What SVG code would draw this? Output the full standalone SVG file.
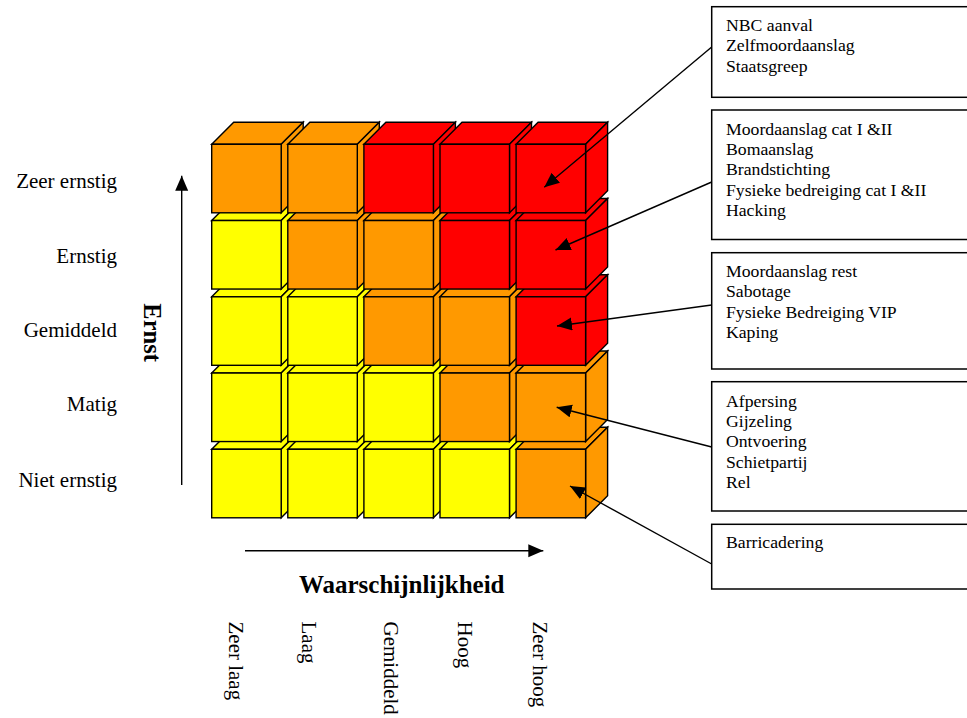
<svg xmlns="http://www.w3.org/2000/svg" xmlns:xlink="http://www.w3.org/1999/xlink" width="967" height="718" viewBox="0 0 967 718">
  <style>
    .lbl { font-family: "Liberation Serif", "Times New Roman", serif; font-size: 21px; fill: #000; }
    .ttl { font-family: "Liberation Serif", "Times New Roman", serif; font-size: 24.5px; font-weight: bold; fill: #000; }
    .box { fill: #fff; stroke: #000; stroke-width: 1.5; }
    .btx { font-family: "Liberation Serif", "Times New Roman", serif; font-size: 17.7px; fill: #000; }
    .con { stroke: #000; stroke-width: 1.4; fill: none; }
  </style>
  <defs>
    <marker id="head" markerUnits="userSpaceOnUse" markerWidth="16" markerHeight="14" refX="15" refY="6.5" orient="auto">
      <path d="M0,0 L15,6.5 L0,13 Z" fill="#000"/>
    </marker>
    <!-- one cube: top face, right face, front face; fill comes from the <use> -->
    <g id="cube" stroke="#000" stroke-width="1.4" stroke-linejoin="miter">
      <path d="M0,0 L22,-22 L91.5,-22 L69.5,0 Z"/>
      <path d="M69.5,0 L91.5,-22 L91.5,46.5 L69.5,68.5 Z"/>
      <rect x="0" y="0" width="69.5" height="68.5"/>
    </g>
  </defs>
  <rect width="967" height="718" fill="#fff"/>

  <!-- risk matrix: bottom row first, left to right -->
  <g id="matrix">
    <g id="cell-r4-c0"><use xlink:href="#cube" x="211.7" y="449.3" fill="#FFFF00"/></g>
    <g id="cell-r4-c1"><use xlink:href="#cube" x="287.8" y="449.3" fill="#FFFF00"/></g>
    <g id="cell-r4-c2"><use xlink:href="#cube" x="363.9" y="449.3" fill="#FFFF00"/></g>
    <g id="cell-r4-c3"><use xlink:href="#cube" x="440.0" y="449.3" fill="#FFFF00"/></g>
    <g id="cell-r4-c4"><use xlink:href="#cube" x="516.1" y="449.3" fill="#FF9900"/></g>

    <g id="cell-r3-c0"><use xlink:href="#cube" x="211.7" y="373.05" fill="#FFFF00"/></g>
    <g id="cell-r3-c1"><use xlink:href="#cube" x="287.8" y="373.05" fill="#FFFF00"/></g>
    <g id="cell-r3-c2"><use xlink:href="#cube" x="363.9" y="373.05" fill="#FFFF00"/></g>
    <g id="cell-r3-c3"><use xlink:href="#cube" x="440.0" y="373.05" fill="#FF9900"/></g>
    <g id="cell-r3-c4"><use xlink:href="#cube" x="516.1" y="373.05" fill="#FF9900"/></g>

    <g id="cell-r2-c0"><use xlink:href="#cube" x="211.7" y="296.8" fill="#FFFF00"/></g>
    <g id="cell-r2-c1"><use xlink:href="#cube" x="287.8" y="296.8" fill="#FFFF00"/></g>
    <g id="cell-r2-c2"><use xlink:href="#cube" x="363.9" y="296.8" fill="#FF9900"/></g>
    <g id="cell-r2-c3"><use xlink:href="#cube" x="440.0" y="296.8" fill="#FF9900"/></g>
    <g id="cell-r2-c4"><use xlink:href="#cube" x="516.1" y="296.8" fill="#FF0000"/></g>

    <g id="cell-r1-c0"><use xlink:href="#cube" x="211.7" y="220.55" fill="#FFFF00"/></g>
    <g id="cell-r1-c1"><use xlink:href="#cube" x="287.8" y="220.55" fill="#FF9900"/></g>
    <g id="cell-r1-c2"><use xlink:href="#cube" x="363.9" y="220.55" fill="#FF9900"/></g>
    <g id="cell-r1-c3"><use xlink:href="#cube" x="440.0" y="220.55" fill="#FF0000"/></g>
    <g id="cell-r1-c4"><use xlink:href="#cube" x="516.1" y="220.55" fill="#FF0000"/></g>

    <g id="cell-r0-c0"><use xlink:href="#cube" x="211.7" y="144.3" fill="#FF9900"/></g>
    <g id="cell-r0-c1"><use xlink:href="#cube" x="287.8" y="144.3" fill="#FF9900"/></g>
    <g id="cell-r0-c2"><use xlink:href="#cube" x="363.9" y="144.3" fill="#FF0000"/></g>
    <g id="cell-r0-c3"><use xlink:href="#cube" x="440.0" y="144.3" fill="#FF0000"/></g>
    <g id="cell-r0-c4"><use xlink:href="#cube" x="516.1" y="144.3" fill="#FF0000"/></g>
  </g>

  <!-- severity axis -->
  <g id="axis-severity">
    <text class="lbl" x="117" y="188.3" text-anchor="end">Zeer ernstig</text>
    <text class="lbl" x="117" y="262.7" text-anchor="end">Ernstig</text>
    <text class="lbl" x="117" y="336.9" text-anchor="end">Gemiddeld</text>
    <text class="lbl" x="117" y="411.2" text-anchor="end">Matig</text>
    <text class="lbl" x="117" y="486.7" text-anchor="end">Niet ernstig</text>
    <text class="ttl" transform="translate(144.3,303.3) rotate(90)">Ernst</text>
    <line class="con" x1="181.7" y1="485" x2="181.7" y2="175.7" marker-end="url(#head)"/>
  </g>

  <!-- likelihood axis -->
  <g id="axis-likelihood">
    <line class="con" x1="245" y1="550.7" x2="543.3" y2="550.7" marker-end="url(#head)"/>
    <text class="ttl" x="401.7" y="592.7" text-anchor="middle" style="font-size:25px">Waarschijnlijkheid</text>
    <text class="lbl" transform="translate(228.5,621.5) rotate(90)">Zeer laag</text>
    <text class="lbl" transform="translate(301.5,621.5) rotate(90)">Laag</text>
    <text class="lbl" transform="translate(384,621.5) rotate(90)">Gemiddeld</text>
    <text class="lbl" transform="translate(457.8,621.5) rotate(90)">Hoog</text>
    <text class="lbl" transform="translate(532.8,621.5) rotate(90)">Zeer hoog</text>
  </g>

  <!-- incident boxes -->
  <g id="box-1">
    <rect class="box" x="711.7" y="6.7" width="262" height="90.6"/>
    <text class="btx" x="726" y="31">NBC aanval</text>
    <text class="btx" x="726" y="51.4">Zelfmoordaanslag</text>
    <text class="btx" x="726" y="71.8">Staatsgreep</text>
  </g>
  <g id="box-2">
    <rect class="box" x="711.7" y="110" width="262" height="129.5"/>
    <text class="btx" x="726" y="134.5">Moordaanslag cat I &amp;II</text>
    <text class="btx" x="726" y="154.9">Bomaanslag</text>
    <text class="btx" x="726" y="175.3">Brandstichting</text>
    <text class="btx" x="726" y="195.7">Fysieke bedreiging cat I &amp;II</text>
    <text class="btx" x="726" y="216.1">Hacking</text>
  </g>
  <g id="box-3">
    <rect class="box" x="711.7" y="252.7" width="262" height="116.3"/>
    <text class="btx" x="726" y="276.7">Moordaanslag rest</text>
    <text class="btx" x="726" y="297.1">Sabotage</text>
    <text class="btx" x="726" y="317.5">Fysieke Bedreiging VIP</text>
    <text class="btx" x="726" y="337.9">Kaping</text>
  </g>
  <g id="box-4">
    <rect class="box" x="711.7" y="381.7" width="262" height="129.3"/>
    <text class="btx" x="726" y="406.5">Afpersing</text>
    <text class="btx" x="726" y="426.9">Gijzeling</text>
    <text class="btx" x="726" y="447.3">Ontvoering</text>
    <text class="btx" x="726" y="467.7">Schietpartij</text>
    <text class="btx" x="726" y="488.1">Rel</text>
  </g>
  <g id="box-5">
    <rect class="box" x="711.7" y="524.3" width="262" height="64.7"/>
    <text class="btx" x="726" y="548.3">Barricadering</text>
  </g>

  <!-- connectors from boxes to matrix cells -->
  <g id="connectors">
    <line class="con" x1="711.7" y1="47" x2="544.3" y2="187.3" marker-end="url(#head)"/>
    <line class="con" x1="711.7" y1="182" x2="555.5" y2="250" marker-end="url(#head)"/>
    <line class="con" x1="711.7" y1="305" x2="557" y2="326" marker-end="url(#head)"/>
    <line class="con" x1="711.7" y1="447" x2="556.7" y2="407.3" marker-end="url(#head)"/>
    <line class="con" x1="711.7" y1="564" x2="570" y2="486" marker-end="url(#head)"/>
  </g>
</svg>
